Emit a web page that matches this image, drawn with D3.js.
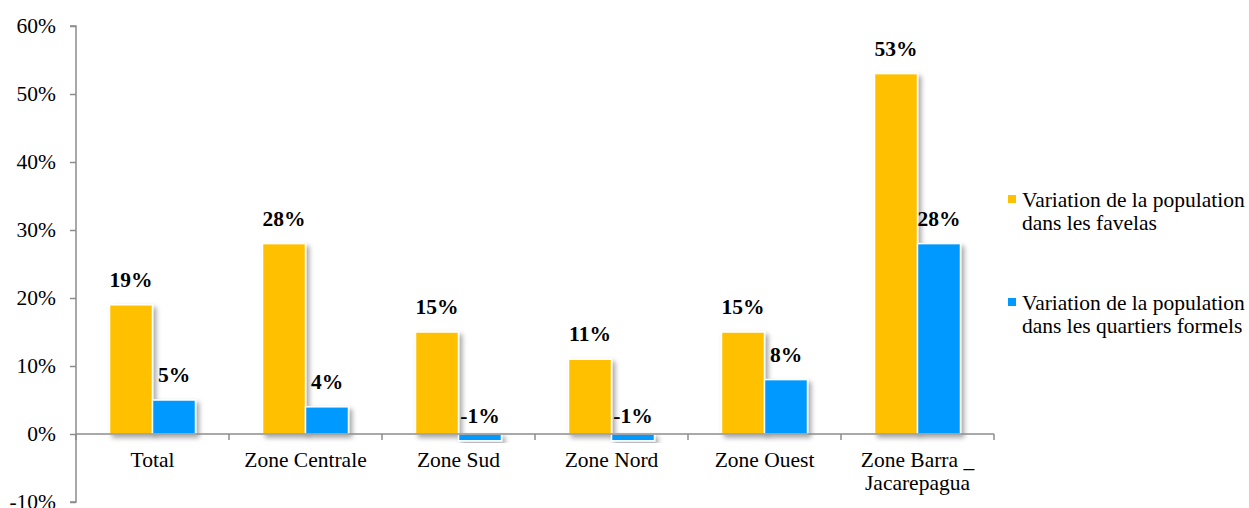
<!DOCTYPE html>
<html>
<head>
<meta charset="utf-8">
<script src="https://cdn.jsdelivr.net/npm/d3@7"></script>
<style>
  body { margin: 0; background: #fff; }
  svg, svg text { font-family: "Liberation Serif", "Times New Roman", Times, "DejaVu Serif", serif !important; }
</style>
</head>
<body>
<div id="chart"></div>
<script>
var categories = ["Total", "Zone Centrale", "Zone Sud", "Zone Nord", "Zone Ouest", "Zone Barra _|Jacarepagua"];
var favelas = [19, 28, 15, 11, 15, 53];
var formels = [5, 4, -1, -1, 8, 28];
var seriesNames = [
  ["Variation de la population", "dans les favelas"],
  ["Variation de la population", "dans les quartiers formels"]
];
var colors = ["#FFC000", "#0099FF"];
var yTicks = [-10, 0, 10, 20, 30, 40, 50, 60];

var W = 1249, H = 508;
var fs = "21.5px";
var svg = d3.select("#chart").append("svg")
  .attr("width", W).attr("height", H);

// drop shadow like the office chart
var defs = svg.append("defs");
defs.append("filter").attr("id", "shadow")
  .attr("x", "-20%").attr("y", "-20%").attr("width", "150%").attr("height", "150%")
  .append("feDropShadow")
  .attr("dx", 3).attr("dy", 3).attr("stdDeviation", 2.5)
  .attr("flood-color", "#000").attr("flood-opacity", 0.35);

var x0 = d3.scaleBand().domain(categories).range([76, 994]);
var y = d3.scaleLinear().domain([-10, 60]).range([502, 26]);

var axisColor = "#8c8c8c";

// y axis
var yAxis = svg.append("g")
  .attr("transform", "translate(76,0)")
  .call(d3.axisLeft(y).tickValues(yTicks).tickSize(6).tickPadding(14)
    .tickFormat(function(d) { return d + "%"; }));
yAxis.attr("font-family", null).attr("font-size", null);
yAxis.selectAll("path, line").attr("stroke", axisColor).attr("stroke-width", 1.5);
yAxis.select(".domain").attr("d", "M-6," + y(60) + "H0V" + y(-10) + "H-6");
yAxis.selectAll("text").style("font-size", fs).attr("fill", "#000");

// bars
var data = categories.map(function(c, i) { return { cat: c, vals: [favelas[i], formels[i]] }; });
var barW = 43;

var groups = svg.append("g").selectAll("g")
  .data(data).enter().append("g")
  .attr("transform", function(d) { return "translate(" + (x0(d.cat) + x0.bandwidth() / 2) + ",0)"; });

groups.selectAll("rect")
  .data(function(d) { return d.vals; })
  .enter().append("rect")
  .attr("x", function(d, j) { return j === 0 ? -barW : 0; })
  .attr("y", function(d) { return y(Math.max(d, 0)); })
  .attr("width", barW)
  .attr("height", function(d) { return Math.abs(y(d) - y(0)); })
  .attr("fill", function(d, j) { return colors[j]; })
  .attr("stroke", "#fff").attr("stroke-width", 1.5)
  .attr("filter", "url(#shadow)");

groups.selectAll("text.val")
  .data(function(d) { return d.vals; })
  .enter().append("text")
  .attr("class", "val")
  .attr("x", function(d, j) { return j === 0 ? -barW / 2 : barW / 2; })
  .attr("y", function(d) { return y(d) - 18; })
  .attr("text-anchor", "middle")
  .style("font-size", fs).style("font-weight", "bold")
  .text(function(d) { return d + "%"; });

// x axis at zero
var xAxisG = svg.append("g").attr("transform", "translate(0," + y(0) + ")");
xAxisG.append("line").attr("x1", 76).attr("x2", 994)
  .attr("stroke", axisColor).attr("stroke-width", 1.5);
xAxisG.selectAll("line.tick")
  .data(categories.concat(["end"])).enter().append("line")
  .attr("class", "tick")
  .attr("x1", function(d, i) { return 76 + i * x0.bandwidth(); })
  .attr("x2", function(d, i) { return 76 + i * x0.bandwidth(); })
  .attr("y1", 0).attr("y2", 6)
  .attr("stroke", axisColor).attr("stroke-width", 1.5);

var catLabels = svg.append("g").selectAll("text")
  .data(categories).enter().append("text")
  .attr("x", function(d) { return x0(d) + x0.bandwidth() / 2; })
  .attr("y", 467)
  .attr("text-anchor", "middle")
  .style("font-size", fs);
catLabels.selectAll("tspan")
  .data(function(d) { return d.split("|"); })
  .enter().append("tspan")
  .attr("x", function() { return d3.select(this.parentNode).attr("x"); })
  .attr("dy", function(d, i) { return i === 0 ? 0 : 23; })
  .text(function(d) { return d; });

// legend
var legend = svg.append("g").selectAll("g")
  .data(seriesNames).enter().append("g")
  .attr("transform", function(d, i) { return "translate(1008," + (207 + i * 103) + ")"; });
legend.append("rect")
  .attr("x", 0).attr("y", -12).attr("width", 8).attr("height", 8)
  .attr("fill", function(d, i) { return colors[i]; });
legend.append("text")
  .attr("x", 14).attr("y", 0)
  .style("font-size", fs)
  .selectAll("tspan")
  .data(function(d) { return d; })
  .enter().append("tspan")
  .attr("x", 14)
  .attr("dy", function(d, i) { return i === 0 ? 0 : 23; })
  .text(function(d) { return d; });
</script>
</body>
</html>
